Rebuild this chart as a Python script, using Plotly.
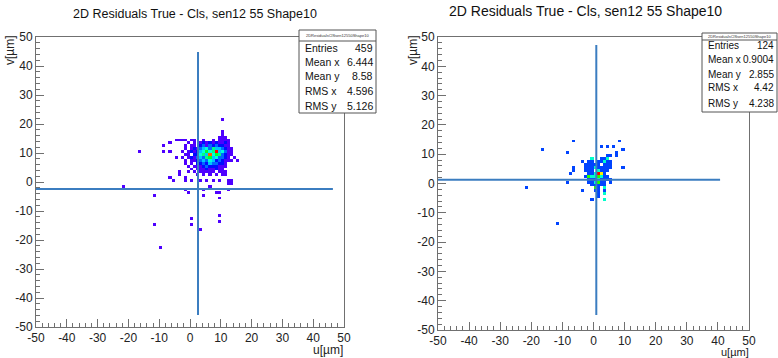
import numpy as np
import colorsys
import plotly.graph_objects as go

W, H = 778, 358

# ---------------- data: left panel ----------------
left_title = "2D Residuals True - Cls, sen12 55 Shape10"
left_core_u = list(range(-3, 15))
left_core_v = [17, 16, 15, 14, 13, 12, 11, 10, 9, 8, 7, 6, 5, 4, 3, 2]
left_core_counts = [
    [0,0,0,0,0,0,0,0,0,0,0,0,0,1,0,0,0,0],
    [0,0,0,0,0,0,0,0,0,0,0,0,0,1,0,0,0,0],
    [0,0,0,0,0,0,0,0,0,0,0,0,1,1,1,0,0,0],
    [1,1,0,1,1,0,0,1,0,0,1,0,1,1,1,1,0,0],
    [0,0,1,0,1,0,1,2,1,2,1,2,1,1,2,1,0,0],
    [0,1,0,1,1,0,2,3,1,3,2,3,2,2,1,1,0,0],
    [0,1,0,1,2,1,3,4,5,3,6,4,4,3,2,1,1,0],
    [1,0,1,2,1,2,4,5,7,5,6,13,4,5,3,1,1,0],
    [0,1,1,0,2,2,5,6,4,12,5,7,6,3,2,1,1,0],
    [1,0,1,2,1,3,4,3,6,7,4,5,3,3,2,1,0,1],
    [0,1,0,1,1,2,3,4,3,5,4,2,3,2,1,1,1,0],
    [0,1,0,1,0,2,2,3,2,4,3,3,2,2,1,0,0,0],
    [0,0,1,0,1,1,1,2,3,2,2,2,1,1,1,0,0,0],
    [0,0,0,1,0,1,1,1,2,1,1,2,1,1,0,0,0,0],
    [0,0,1,0,1,0,1,1,1,1,1,0,1,1,1,0,0,0],
    [0,0,0,0,0,1,0,1,0,1,0,1,0,1,1,0,0,0],
]
left_out_u = [10, -17, -9, -9, -7, -7, -5, -5, -4, -4, -4, -7, -6, -2, -2, -2, -1, -22, -12,
              -12, -10, 0, 0, 3, 4, 4, 6, 8, 9, 9, 9, 9, 12, 12, 12, 13, 13, 15, 3, 5, 7, 9, 0]
left_out_v = [21, 10, 12, 10, 13, 10, 8, 14, 14, 3, 2, 1, 0, 0, 1, -3, -4, -2, -5,
              -15, -23, -13, -15, -17, -5, -3, -2, -4, -4, -6, -12, -14, -3, 0, -1, 0, -1, 7, 0, 0, 0, 0, 0]
left_out_n = [1] * len(left_out_u)
left_stats_values = ["459", "6.444", "8.58", "4.596", "5.126"]
left_cross_u = [2.6, 2.6, None, -50, 46.4]
left_cross_v = [44.8, -45.9, None, -2.4, -2.4]

# ---------------- data: right panel ----------------
right_title = "2D Residuals True - Cls, sen12 55 Shape10"
right_core_u = list(range(-4, 7))
right_core_v = [9, 8, 7, 6, 5, 4, 3, 2, 1, 0, -1, -2, -3, -4, -5, -6]
right_core_counts = [
    [0,0,0,0,0,0,0,0,1,1,0],
    [0,0,0,2,0,0,1,1,2,0,0],
    [1,0,1,1,0,1,1,2,1,1,0],
    [0,1,1,1,1,1,0,1,1,1,0],
    [0,1,1,1,2,1,1,1,1,1,0],
    [0,1,1,1,0,2,1,1,1,0,0],
    [0,0,1,1,2,5,4,1,0,0,0],
    [0,1,3,2,2,3,2,1,1,0,0],
    [0,0,1,1,1,2,1,1,1,1,0],
    [0,0,1,1,2,3,1,1,0,1,0],
    [0,0,0,1,1,1,1,1,0,0,0],
    [0,0,0,0,3,1,0,2,0,0,0],
    [1,0,0,0,1,1,0,1,0,0,0],
    [0,0,0,0,0,1,0,2,0,0,0],
    [0,0,0,0,0,1,0,0,0,0,0],
    [0,0,0,1,0,0,0,2,0,0,0],
]
right_out_u = [-22, -17, -12, -9, -9, -7, -7, -7, -8, 2, 4, 6, 8, 9, 7, 7, 9]
right_out_v = [-2, 11, -14, 0, 10, 14, 5, 4, 3, 12, 12, 12, 14, 11, 10, 9, 5]
right_out_n = [1] * len(right_out_u)
right_stats_values = ["124", "0.9004", "2.855", "4.42", "4.238"]
right_cross_u = [0.9, 0.9, None, -50, 40.7]
right_cross_v = [47.3, -44.9, None, 1.3, 1.3]

stats_labels = ["Entries", "Mean x", "Mean y", "RMS x", "RMS y"]
stats_header = "2DResidualsClSsen12550Shape10"
axis_x_title = "u[\u00b5m]"
axis_y_title = "v[\u00b5m]"
tick_vals = [-50, -40, -30, -20, -10, 0, 10, 20, 30, 40, 50]
tick_text = ["-50", "-40", "-30", "-20", "-10", "0", "10", "20", "30", "40", "50"]


def build_z(core_u, core_v, core_counts, out_u, out_v, out_n):
    z = np.zeros((100, 100))
    for vi, v in enumerate(core_v):
        for ui, u in enumerate(core_u):
            z[v + 50, u + 50] += core_counts[vi][ui]
    for u, v, n in zip(out_u, out_v, out_n):
        z[v + 50, u + 50] += n
    zmax = z.max()
    zz = z.astype(object)
    zz[z == 0] = None
    return zz.tolist(), zmax


centers = (np.arange(-50, 50) + 0.5).tolist()

# ROOT "pretty" palette: hue 280 -> 0, L=0.5, S=1
cs = []
for s in np.linspace(0, 1, 15):
    r, g, b = colorsys.hls_to_rgb((280 * (1 - s)) / 360.0, 0.5, 1.0)
    cs.append([float(s), "rgb(%d,%d,%d)" % (round(r * 255), round(g * 255), round(b * 255))])

zL, zmaxL = build_z(left_core_u, left_core_v, left_core_counts, left_out_u, left_out_v, left_out_n)
zR, zmaxR = build_z(right_core_u, right_core_v, right_core_counts, right_out_u, right_out_v, right_out_n)

fig = go.Figure()
fig.add_trace(go.Heatmap(x=centers, y=centers, z=zL, zmin=0, zmax=zmaxL, colorscale=cs,
                         showscale=False, xaxis="x", yaxis="y", hoverongaps=False))
fig.add_trace(go.Heatmap(x=centers, y=centers, z=zR, zmin=0, zmax=zmaxR, colorscale=cs,
                         showscale=False, xaxis="x2", yaxis="y2", hoverongaps=False))
line_col = "#3b7dc0"
fig.add_trace(go.Scatter(x=left_cross_u, y=left_cross_v, mode="lines",
                         line=dict(color=line_col, width=2), xaxis="x", yaxis="y", showlegend=False))
fig.add_trace(go.Scatter(x=right_cross_u, y=right_cross_v, mode="lines",
                         line=dict(color=line_col, width=2), xaxis="x2", yaxis="y2", showlegend=False))


def px(x):
    return x / W


def py(y):
    return 1 - y / H


FONT = "Liberation Sans, Arial, Helvetica, sans-serif"
axcol = "#707070"


def axis_common(domain, anchor):
    return dict(domain=domain, anchor=anchor, range=[-50, 50], automargin=False,
                tickmode="array", tickvals=tick_vals, ticktext=tick_text,
                showgrid=False, zeroline=False, showline=True, mirror=True,
                linecolor=axcol, linewidth=1, ticks="inside", ticklen=8, tickcolor=axcol,
                tickwidth=1, tickfont=dict(family=FONT, size=12, color="#222"),
                minor=dict(tickmode="linear", tick0=0, dtick=2, ticks="inside", ticklen=4,
                           tickcolor=axcol, showgrid=False),
                fixedrange=True)


# page pixels -- left axes: x 36..344, y 37..327 ; right: x 438..749, y 37..330
fig.update_layout(
    width=W, height=H, margin=dict(l=0, r=0, t=0, b=0),
    paper_bgcolor="white", plot_bgcolor="white", showlegend=False,
    xaxis=axis_common([px(36), px(344)], "y"),
    yaxis=axis_common([py(327), py(37)], "x"),
    xaxis2=axis_common([px(438), px(749)], "y2"),
    yaxis2=axis_common([py(330), py(37)], "x2"),
)

ann = []
shapes = []
# titles
ann.append(dict(x=px(195), y=py(14), xref="paper", yref="paper", text=left_title, showarrow=False,
                font=dict(family=FONT, size=12.5, color="#111"), xanchor="center", yanchor="middle"))
ann.append(dict(x=px(585), y=py(11), xref="paper", yref="paper", text=right_title, showarrow=False,
                font=dict(family=FONT, size=14, color="#111"), xanchor="center", yanchor="middle"))
# axis titles
for xr, yb, fs in ((345, 350, 12), (751, 351.5, 11)):
    ann.append(dict(x=px(xr), y=py(yb), xref="paper", yref="paper", text=axis_x_title, showarrow=False,
                    font=dict(family=FONT, size=fs, color="#222"), xanchor="right", yanchor="middle"))
for xc, yt in ((10, 33), (413, 33)):
    ann.append(dict(x=px(xc), y=py(yt), xref="paper", yref="paper", text=axis_y_title, showarrow=False,
                    textangle=-90, font=dict(family=FONT, size=12, color="#222"),
                    xanchor="center", yanchor="top"))

# stats boxes (page pixels)
boxes = [
    dict(x0=299, x1=376, y0=30, y1=113, sep=41, hdr=35.5, rows=[48, 62, 76, 91, 106], vals=left_stats_values, fs=10.5),
    dict(x0=702, x1=777, y0=33, y1=112, sep=40, hdr=36.5, rows=[45, 59, 74, 88, 103], vals=right_stats_values, fs=10),
]
for b in boxes:
    shapes.append(dict(type="rect", xref="paper", yref="paper", x0=px(b["x0"]), x1=px(b["x1"]),
                       y0=py(b["y1"]), y1=py(b["y0"]), line=dict(color="#555", width=1),
                       fillcolor="white", layer="above"))
    shapes.append(dict(type="line", xref="paper", yref="paper", x0=px(b["x0"]), x1=px(b["x1"]),
                       y0=py(b["sep"]), y1=py(b["sep"]), line=dict(color="#555", width=1), layer="above"))
    ann.append(dict(x=px((b["x0"] + b["x1"]) / 2), y=py(b["hdr"]), xref="paper", yref="paper",
                    text=stats_header, showarrow=False, font=dict(family=FONT, size=4, color="#333"),
                    xanchor="center", yanchor="middle"))
    for lab, val, yy in zip(stats_labels, b["vals"], b["rows"]):
        ann.append(dict(x=px(b["x0"] + 4), y=py(yy), xref="paper", yref="paper", text=lab,
                        showarrow=False, font=dict(family=FONT, size=b["fs"], color="#111"),
                        xanchor="left", yanchor="middle"))
        ann.append(dict(x=px(b["x1"] - 1), y=py(yy), xref="paper", yref="paper", text=val,
                        showarrow=False, font=dict(family=FONT, size=b["fs"], color="#111"),
                        xanchor="right", yanchor="middle"))

fig.update_layout(annotations=ann, shapes=shapes)
fig.write_html("out.html", config={"displayModeBar": False},
               post_script="document.body.style.margin='0px';document.body.style.overflow='hidden';")
